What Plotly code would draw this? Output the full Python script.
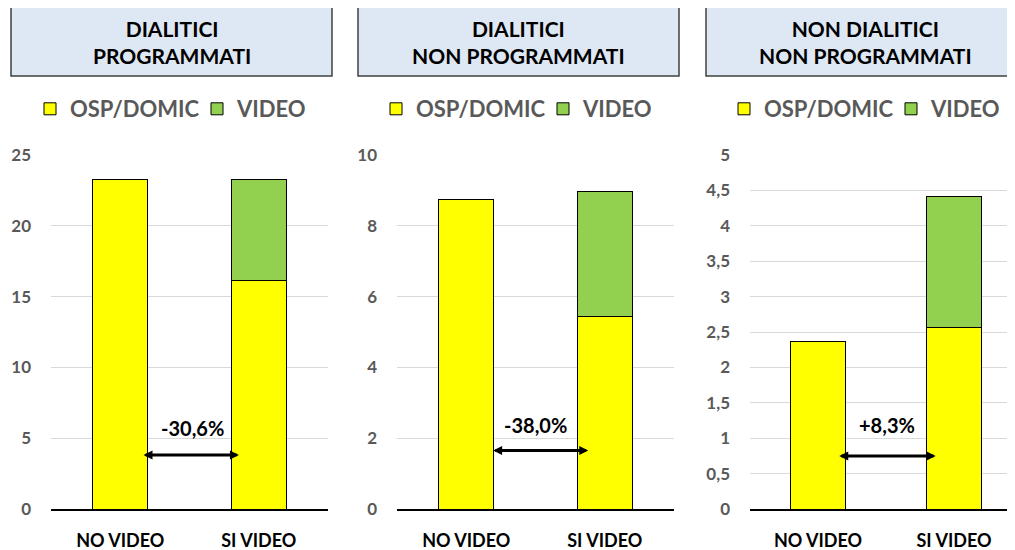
import plotly.graph_objects as go

# categories and values
CATEGORIES = ["NO VIDEO", "SI VIDEO"]
PANEL_TITLES = ["DIALITICI<br>PROGRAMMATI", "DIALITICI<br>NON PROGRAMMATI", "NON DIALITICI<br>NON PROGRAMMATI"]

OSP_DOMIC_1 = [23.3, 16.15]
VIDEO_1 = [None, 7.15]
OSP_DOMIC_2 = [8.74, 5.43]
VIDEO_2 = [None, 3.55]
OSP_DOMIC_3 = [2.365, 2.56]
VIDEO_3 = [None, 1.86]

CHANGE_LABELS = ["-30,6%", "-38,0%", "+8,3%"]
CHANGE_ARROW_Y = [3.82, 1.65, 0.75]
CHANGE_LABEL_Y = [5.7, 2.37, 1.18]

Y_MAX = [25, 10, 5]
Y_STEP = [5, 2, 0.5]

YELLOW = "#FFFF00"
GREEN = "#92D050"
FONT = "Lato"
W, H = 1007, 542
OFF = 8  # page body margin


def px_x(v):
    return (v - OFF) / W


def px_y(v):
    return 1 - (v - OFF) / H


osp = [OSP_DOMIC_1, OSP_DOMIC_2, OSP_DOMIC_3]
video = [VIDEO_1, VIDEO_2, VIDEO_3]

# screen-pixel layout of the three plot areas
x_px = [(51, 328), (397, 674), (750, 1015)]
x_ranges = [[-0.5, 1.5], [-0.5, 1.5], [-0.5, (1015 - 818) / 136]]
y_dom = [px_y(509), px_y(155)]
legend_left = [53, 399, 747]
box_px = [(11, 332), (358, 679), (706, 1030)]
title_cx = [171.5, 518.5, 865.5]

fig = go.Figure()
layout = dict(
    width=W, height=H, margin=dict(l=0, r=0, t=0, b=0, autoexpand=False),
    plot_bgcolor="white", paper_bgcolor="white",
    barmode="stack", bargap=0.6, separators=",.",
    font=dict(family=FONT, color="#000000"),
    shapes=[], annotations=[],
)

for i in range(3):
    n = "" if i == 0 else str(i + 1)
    xa, ya = "x" + n, "y" + n
    leg = "legend" + n
    fig.add_bar(x=CATEGORIES, y=osp[i], name="OSP/DOMIC", xaxis=xa, yaxis=ya, legend=leg,
                marker=dict(color=YELLOW, line=dict(color="#000000", width=1)))
    fig.add_bar(x=CATEGORIES, y=video[i], name="VIDEO", xaxis=xa, yaxis=ya, legend=leg,
                marker=dict(color=GREEN, line=dict(color="#000000", width=1)))

    layout["xaxis" + n] = dict(
        domain=[px_x(x_px[i][0]), min(px_x(x_px[i][1]), 1)], anchor=ya, range=x_ranges[i],
        showline=True, linecolor="#000000", linewidth=2, showgrid=False, ticks="",
        tickfont=dict(family=FONT, size=18, color="#000000", weight="bold"),
        ticklabelstandoff=14, automargin=False, fixedrange=True,
    )
    layout["yaxis" + n] = dict(
        domain=y_dom, anchor=xa, range=[0, Y_MAX[i]], dtick=Y_STEP[i],
        showgrid=True, gridcolor="#D9D9D9", gridwidth=1, zeroline=False, showline=False,
        ticks="", tickfont=dict(family=FONT, size=17, color="#595959", weight="bold"),
        ticklabelstandoff=19, automargin=False, fixedrange=True,
    )
    layout[leg] = dict(
        orientation="h", x=px_x(legend_left[i] - 23), xanchor="left",
        y=px_y(109), yanchor="middle", bgcolor="rgba(0,0,0,0)",
        font=dict(family=FONT, size=22, color="#595959", weight="bold"),
        entrywidth=122, traceorder="normal", itemclick=False,
    )

    # title boxes
    x0, x1 = box_px[i]
    layout["shapes"].append(dict(
        type="rect", xref="paper", yref="paper",
        x0=px_x(x0), x1=px_x(x1), y0=px_y(76), y1=px_y(7),
        fillcolor="#DEE8F4", line=dict(color="#404040", width=1.5), layer="below",
    ))
    layout["annotations"].append(dict(
        xref="paper", yref="paper", x=px_x(title_cx[i]), y=px_y(41.5),
        text=PANEL_TITLES[i], showarrow=False, xanchor="center", yanchor="middle",
        font=dict(family=FONT, size=21, color="#000000", weight="bold"),
    ))

    # double-headed change arrow and its label
    arrow_x = [(0.157, 0.857), (0.183, 0.881), (0.145, 0.865)][i]
    layout["annotations"].append(dict(
        xref=xa, yref=ya, axref=xa, ayref=ya,
        x=arrow_x[1], y=CHANGE_ARROW_Y[i], ax=arrow_x[0], ay=CHANGE_ARROW_Y[i],
        text="", showarrow=True, arrowside="end+start", arrowhead=2,
        arrowsize=0.6, arrowwidth=3, arrowcolor="#000000", standoff=0, startstandoff=0,
    ))
    layout["annotations"].append(dict(
        xref=xa, yref=ya, x=[0.52, 0.50, 0.51][i], y=CHANGE_LABEL_Y[i],
        text=CHANGE_LABELS[i], showarrow=False, xanchor="center", yanchor="middle",
        font=dict(family=FONT, size=20, color="#000000", weight="bold"),
    ))

fig.update_layout(**layout)
fig.write_html("out.html")
